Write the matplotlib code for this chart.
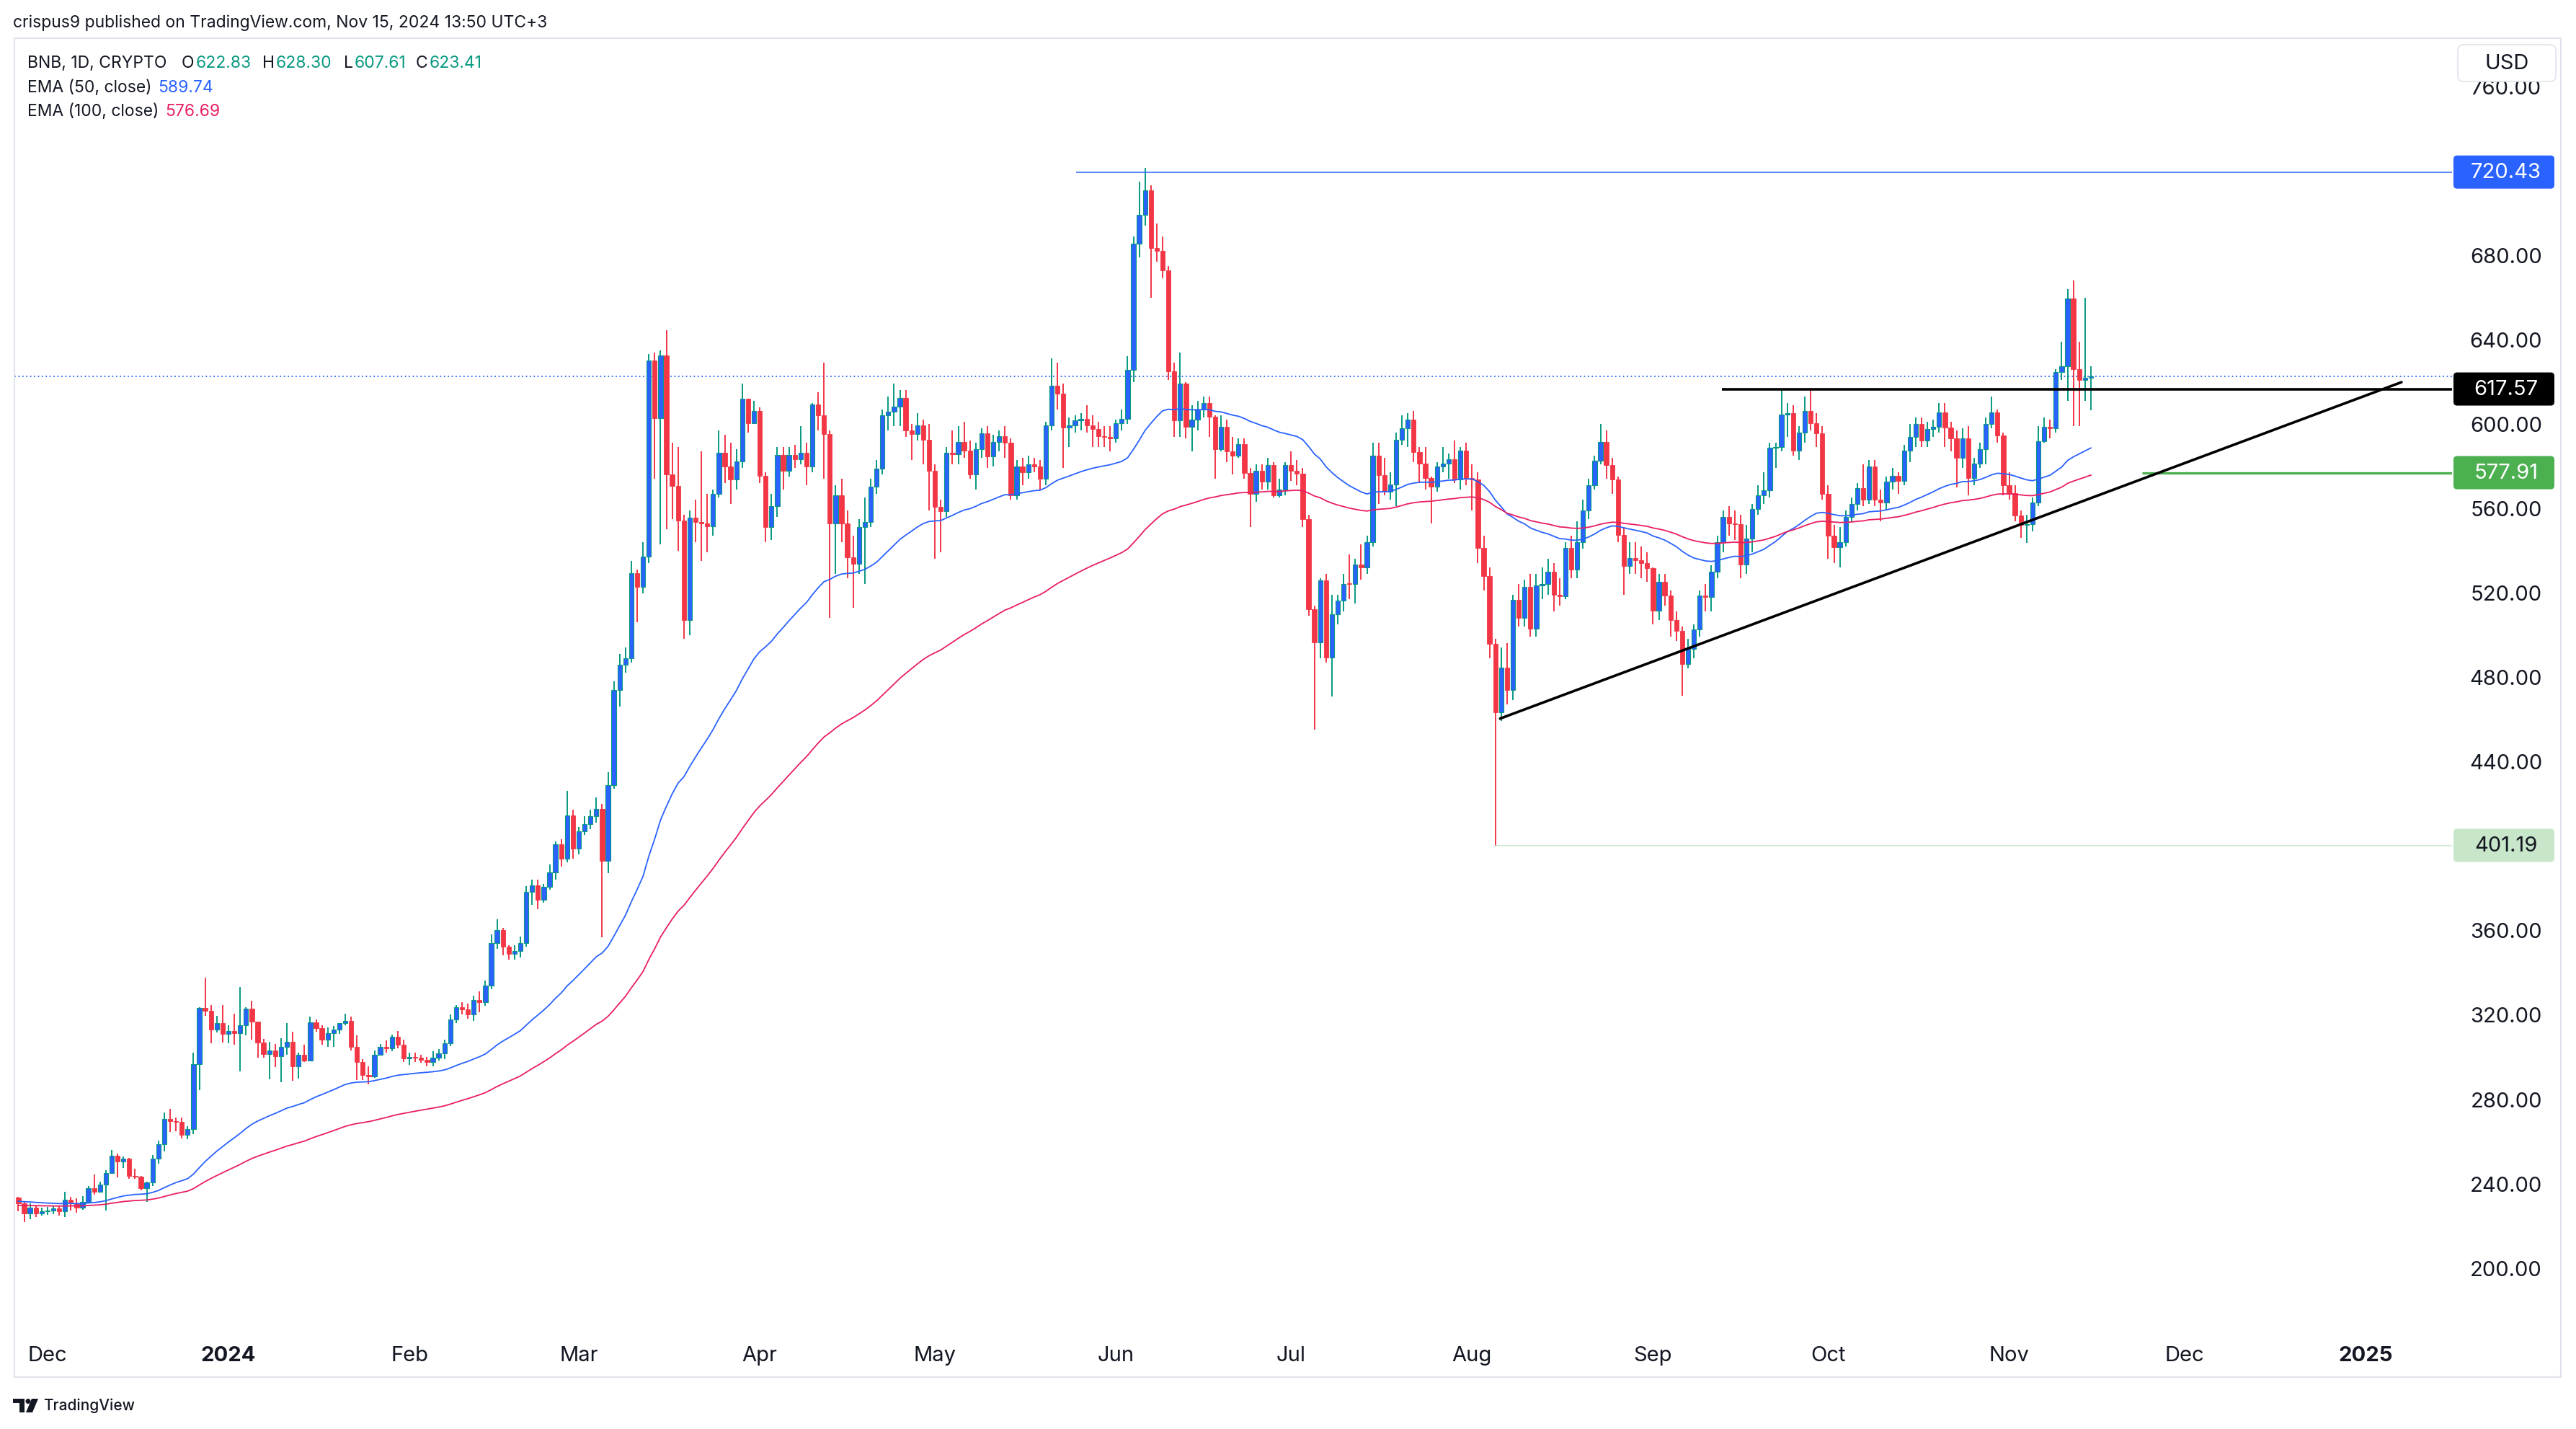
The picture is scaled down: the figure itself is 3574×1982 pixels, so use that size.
import datetime as dt
import matplotlib
matplotlib.use("Agg")
import matplotlib.pyplot as plt
from matplotlib.patches import FancyBboxPatch, Rectangle, Polygon, Circle

W, H = 3574, 1982
plt.rcParams['font.family'] = ['Inter', 'DejaVu Sans']

# ---- data (BNB daily) ----
start_day = dt.date(2023, 11, 26)
first_open = 234.1

close_nov23 = [231.3, 226.7, 229.4, 226.7, 227.8]
high_nov23 = [234.5, 232.2, 231.3, 230.5, 229.5]
low_nov23 = [227.6, 222.5, 224.0, 225.0, 225.5]

close_dec = [228.0, 229.0, 227.6, 233.1, 231.3, 229.4, 232.2, 238.5, 236.8, 240.4, 245.9, 253.9, 251.3, 252.7, 244.5, 244.0,
             238.5, 241.4, 252.5, 259.6, 271.5, 270.6, 270.2, 264.1, 266.5, 297.5, 324.0, 322.8, 313.7, 316.8, 311.7]
high_dec = [229.6, 230.0, 230.2, 236.8, 234.5, 234.0, 235.0, 239.6, 245.3, 241.8, 247.3, 256.7, 255.2, 253.6, 253.0, 247.8,
            244.5, 241.8, 254.2, 261.3, 274.4, 276.1, 272.3, 272.3, 267.9, 302.9, 324.5, 338.4, 325.5, 320.5, 325.5]
low_dec = [226.0, 226.5, 225.5, 225.0, 228.0, 227.0, 228.5, 231.5, 235.5, 236.5, 228.0, 245.5, 243.8, 248.2, 243.0, 243.0,
           237.5, 232.0, 239.5, 250.2, 256.0, 265.2, 265.8, 262.1, 261.8, 264.3, 285.2, 320.3, 307.4, 312.6, 307.8]

close_jan = [313.1, 312.0, 315.8, 323.7, 317.7, 307.7, 302.3, 304.1, 301.2, 305.5, 308.2, 296.3, 301.8, 299.2, 317.1, 314.6,
             308.9, 312.2, 314.0, 316.8, 318.1, 305.5, 298.3, 292.4, 291.7, 301.8, 305.5, 304.9, 310.4, 306.8, 300.2]
high_jan = [315.8, 321.3, 333.9, 324.5, 327.4, 317.7, 309.5, 308.0, 306.9, 309.9, 316.8, 312.8, 302.8, 306.5, 320.0, 318.8,
            316.0, 314.8, 315.5, 317.0, 321.3, 319.9, 311.1, 300.0, 296.3, 304.0, 307.0, 308.6, 311.5, 313.2, 309.0]
low_jan = [307.2, 306.8, 294.1, 311.2, 309.2, 300.6, 300.4, 290.3, 296.0, 288.9, 301.8, 289.5, 290.7, 298.5, 299.2, 312.9,
           306.6, 305.5, 305.5, 311.8, 316.0, 304.0, 290.0, 290.0, 287.8, 291.0, 301.8, 303.0, 303.5, 305.0, 298.4]

close_feb = [300.8, 300.5, 299.6, 298.5, 300.6, 302.5, 307.5, 318.8, 324.5, 323.4, 321.1, 328.0, 327.0, 334.8, 354.9,
             361.0, 353.0, 349.6, 351.2, 355.0, 379.2, 382.2, 375.4, 381.5, 388.4, 401.6, 394.7, 415.3, 399.8]
high_feb = [303.0, 303.0, 302.0, 301.0, 303.5, 304.5, 309.0, 321.0, 325.5, 327.0, 326.0, 330.0, 332.0, 337.0, 359.0,
            366.0, 362.0, 354.0, 354.0, 358.0, 382.0, 385.0, 385.0, 383.0, 392.0, 403.0, 404.0, 427.0, 418.0]
low_feb = [297.0, 298.5, 298.0, 296.5, 296.5, 299.0, 300.0, 306.0, 317.0, 321.0, 319.0, 318.0, 322.0, 325.0, 333.0,
           352.0, 349.0, 347.0, 347.0, 348.0, 353.0, 373.0, 371.0, 374.0, 380.0, 385.0, 391.0, 393.0, 395.0]

close_mar = [407.8, 411.2, 415.0, 418.5, 394.0, 429.9, 475.0, 486.9, 489.9, 530.2, 523.6, 538.2, 631.2, 603.8, 633.4, 577.1,
             571.5, 555.3, 508.1, 556.6, 554.4, 553.7, 552.5, 568.0, 587.2, 581.0, 574.6, 583.3, 612.9, 601.5, 607.2]
high_mar = [410, 415, 418, 424, 421, 436, 479, 492, 495, 536, 532, 545, 634, 635, 636, 645.5,
            592, 590, 558, 560, 565, 588, 568, 570, 598, 596, 592, 589, 620, 613, 612]
low_mar = [397, 406, 409, 412, 357.6, 388, 428, 467, 483, 488, 507, 520.6, 535, 575, 544, 551,
           556, 541, 499, 501, 545, 536, 540, 548, 566, 573, 563, 570, 580, 597, 601]

close_apr = [576.5, 552.1, 562.1, 586.3, 578.7, 586.3, 584.4, 587.2, 581.0, 610.2, 605.0, 596.3, 553.7, 567.3, 553.7,
             537.7, 534.7, 552.1, 554.4, 571.4, 579.9, 605.0, 606.8, 609.1, 613.4, 598.1, 596.3, 600.4, 593.6, 578.7]
high_apr = [609, 578, 568, 590, 590, 590, 591, 600, 592, 611, 616, 630, 598, 572, 575,
            560, 548, 556, 566, 575, 584, 608, 614, 620, 617, 617, 601, 606, 603, 601]
low_apr = [573, 545, 546, 557, 570, 576, 580, 582, 572, 578, 598, 575, 509, 530, 545,
           528, 514, 530, 525, 552, 568, 577, 598, 600, 600, 595, 584, 593, 582, 560]

close_may = [561.6, 559.8, 587.4, 586.7, 592.4, 588.5, 577.1, 588.9, 596.5, 585.6, 592.4, 595.1, 592.0, 567.3, 581.0, 578.0,
             582.0, 581.0, 574.9, 600.4, 619.1, 615.2, 599.3, 600.4, 602.7, 603.5, 600.3, 598.5, 595.3, 594.7, 594.0]
high_may = [582, 565, 590, 598, 600, 602, 593, 592, 599, 600, 596, 598, 600, 594, 584, 585,
            586, 585, 584, 602, 632, 630, 620, 604, 605, 606, 610, 605, 602, 600, 600]
low_may = [537, 540, 557, 582, 582, 585, 575, 570, 585, 580, 581, 588, 585, 565, 565, 572,
           575, 578, 570, 572, 598, 608, 580, 590, 597, 598, 597, 590, 590, 590, 588]

close_jun = [601.4, 603.4, 626.7, 686.6, 700.0, 711.8, 684.3, 683.0, 673.7, 625.9, 602.6, 620.0, 599.7, 603.0, 608.0,
             611.0, 604.5, 589.0, 599.7, 588.0, 586.0, 591.4, 577.8, 567.9, 578.7, 573.7, 581.6, 567.0, 570.0, 581.6]
high_jun = [603, 608, 633, 690, 716, 722.3, 714, 696, 690, 676, 630, 635, 621, 610, 612,
            614, 614, 605, 605, 603, 595, 594, 594, 580, 582, 582, 585, 583, 575, 583]
low_jun = [592, 598, 601, 621, 680, 695, 661, 678, 670, 622, 595, 595, 594, 588, 598,
           604, 595, 575, 588, 583, 577, 585, 575, 552, 564, 570, 570, 566, 566, 567]

close_jul = [578.8, 577.5, 556.0, 513.0, 497.3, 526.8, 490.4, 510.9, 517.2, 525.2, 525.0, 534.3, 533.0, 545.0, 586.0, 576.9,
             569.0, 572.3, 593.5, 598.8, 603.1, 587.8, 582.1, 575.3, 571.4, 581.0, 582.1, 584.4, 574.6, 588.5, 575.3]
high_jul = [588, 584, 580, 558, 515, 528, 530, 520, 520, 530, 539, 537, 544, 548, 592, 592,
            585, 578, 597, 605, 606, 607, 590, 590, 576, 583, 590, 587, 593, 590, 592]
low_jul = [574, 572, 552, 510, 456, 490, 488, 471.8, 506, 512, 518, 516, 527, 530, 543, 563,
           567, 565, 562, 591, 590, 583, 573, 570, 554, 569, 578, 575, 573, 570, 572]

close_aug = [574.6, 542.2, 529.0, 496.7, 464.3, 485.3, 475.0, 517.6, 509.2, 523.6, 503.9, 524.5, 525.0, 530.9, 519.9, 519.4,
             542.2, 532.0, 545.0, 560.0, 572.0, 583.5, 592.4, 581.5, 574.7, 548.3, 533.5, 537.4, 536.5, 535.0, 532.6]
high_aug = [582, 578, 548, 533, 499, 495, 497, 520, 525, 527, 530, 530, 533, 537, 535, 528,
            545, 548, 555, 565, 575, 586, 601, 598, 585, 576, 552, 545, 545, 543, 540]
low_aug = [560, 535, 522, 490, 401.19, 460, 468, 470, 505, 505, 500, 500, 518, 520, 512, 515,
           518, 528, 528, 542, 556, 570, 582, 575, 568, 545, 520, 530, 530, 528, 526]

close_sep = [512.6, 526.0, 519.5, 508.0, 503.0, 487.1, 494.4, 503.5, 519.5, 519.0, 530.8, 545.0, 557.0, 554.0, 553.5,
             534.3, 546.8, 560.5, 567.3, 569.6, 589.6, 590.0, 605.4, 606.0, 588.3, 596.9, 607.2, 601.5, 596.5, 568.0]
high_sep = [533, 530, 530, 522, 512, 505, 499, 506, 522, 525, 534, 548, 560, 562, 560,
            558, 553, 563, 572, 578, 592, 592, 617.5, 611, 610, 600, 614, 618, 606, 600]
low_sep = [506, 508, 515, 500, 498, 472, 485, 490, 500, 512, 512, 528, 540, 548, 546,
           528, 530, 540, 558, 563, 566, 580, 588, 595, 586, 584, 592, 598, 590, 565]

close_oct = [547.9, 542.7, 545.0, 557.0, 563.2, 570.7, 565.0, 581.0, 565.0, 563.9, 573.7, 576.4, 574.0, 588.5, 594.7, 601.0,
             593.0, 598.7, 599.5, 606.5, 599.2, 594.2, 585.1, 594.2, 575.3, 582.1, 588.9, 601.0, 606.4, 595.7, 572.1]
high_oct = [572, 553, 552, 560, 566, 573, 582, 584, 584, 570, 576, 580, 578, 591, 601, 604,
            604, 602, 603, 611, 611, 602, 598, 599, 600, 585, 592, 604, 614, 608, 597]
low_oct = [537, 535, 533, 543, 555, 560, 562, 563, 562, 555, 560, 570, 568, 572, 583, 590,
           590, 590, 595, 597, 590, 588, 571, 580, 567, 572, 580, 582, 599, 592, 567]

close_nov = [568.3, 557.6, 553.0, 553.5, 563.7, 592.7, 599.5, 598.8, 625.5, 628.5, 660.6, 627.0, 621.7, 622.83, 623.41]
high_nov = [578, 572, 560, 558, 566, 600, 604, 603, 627, 640, 665, 669, 640, 661, 628.30]
low_nov = [565, 555, 547, 544.6, 550, 562, 592, 594, 597, 622, 612, 600, 600, 612, 607.61]

closes = (close_nov23 + close_dec + close_jan + close_feb + close_mar + close_apr + close_may + close_jun
          + close_jul + close_aug + close_sep + close_oct + close_nov)
highs = (high_nov23 + high_dec + high_jan + high_feb + high_mar + high_apr + high_may + high_jun
         + high_jul + high_aug + high_sep + high_oct + high_nov)
lows = (low_nov23 + low_dec + low_jan + low_feb + low_mar + low_apr + low_may + low_jun
        + low_jul + low_aug + low_sep + low_oct + low_nov)
opens = [first_open] + closes[:-1]

# EMA starting values read at the left edge of the chart
ema50_seed = 232.5
ema100_seed = 230.5

# axis ticks (days counted from 2024-01-01)
month_days = [-31, 0, 31, 60, 91, 121, 152, 182, 213, 244, 274, 305, 335, 366]
month_labels = ['Dec', '2024', 'Feb', 'Mar', 'Apr', 'May', 'Jun', 'Jul', 'Aug', 'Sep', 'Oct', 'Nov', 'Dec', '2025']
price_ticks = [200, 240, 280, 320, 360, 440, 480, 520, 560, 600, 640, 680, 760]

# drawn levels: price, first day, colour, width(pt), label text colour
levels = [(720.43, 145.2, '#2962FF', 1.1, 'white'),
          (617.57, 255.8, '#000000', 2.6, 'white'),
          (577.91, 327.8, '#4CAF50', 2.4, 'white'),
          (401.19, 216.7, '#C8E6C9', 1.1, '#131722')]
trend_days = [217.8, 372.2]
trend_prices = [461.3, 620.8]
last_price = 623.41


def ema(values, n, seed):
    a = 2.0 / (n + 1)
    out, prev = [], seed
    for v in values:
        prev = a * v + (1 - a) * prev
        out.append(prev)
    return out


day0 = (start_day - dt.date(2024, 1, 1)).days
days = [day0 + i for i in range(len(closes))]
ema50 = ema(closes, 50, ema50_seed)
ema100 = ema(closes, 100, ema100_seed)

UP_BODY, UP_LINE, DOWN = '#2962FF', '#089981', '#F23645'
TXT = '#131722'

fig = plt.figure(figsize=(W / 100, H / 100), dpi=100)
fig.patch.set_facecolor('white')

PL, PR, PT, PB = 20, 3402, 53, 1840
XMIN, XMAX = -36.67, 380.86
YMIN, YMAX = 173.0, 783.9
ax = fig.add_axes([PL / W, 1 - PB / H, (PR - PL) / W, (PB - PT) / H])
ax.set_xlim(XMIN, XMAX)
ax.set_ylim(YMIN, YMAX)
ax.axis('off')


def py(p):
    return PB - (p - YMIN) / (YMAX - YMIN) * (PB - PT)


def px(d):
    return PL + (d - XMIN) / (XMAX - XMIN) * (PR - PL)


# candles
up = [i for i in range(len(closes)) if closes[i] >= opens[i]]
dn = [i for i in range(len(closes)) if closes[i] < opens[i]]
for idx, col in ((up, UP_LINE), (dn, DOWN)):
    ax.vlines([days[i] for i in idx], [lows[i] for i in idx], [highs[i] for i in idx],
              colors=col, linewidth=1.4, zorder=2)
ax.bar([days[i] for i in up], [max(closes[i] - opens[i], 0.4) for i in up], 0.78,
       bottom=[opens[i] for i in up], color=UP_BODY, edgecolor=UP_LINE, linewidth=0.8, zorder=3)
ax.bar([days[i] for i in dn], [max(opens[i] - closes[i], 0.4) for i in dn], 0.78,
       bottom=[closes[i] for i in dn], color=DOWN, edgecolor=DOWN, linewidth=0.6, zorder=3)

ax.plot(days, ema50, color='#2962FF', lw=1.3, zorder=4)
ax.plot(days, ema100, color='#E91E63', lw=1.3, zorder=4)

ax.axhline(last_price, color='#2962FF', lw=1.3, linestyle=(0, (1, 2)), zorder=1)
for price, d_start, col, lw, _ in levels:
    ax.hlines(price, d_start, XMAX, colors=col, linewidth=lw, zorder=5)
ax.plot(trend_days, trend_prices, color='black', lw=2.6, solid_capstyle='round', zorder=5)

# overlay in pixel coordinates
ov = fig.add_axes([0, 0, 1, 1], zorder=10)
ov.set_xlim(0, W)
ov.set_ylim(H, 0)
ov.axis('off')
ov.patch.set_visible(False)

ov.add_patch(Rectangle((20, 53), 3553 - 20, 1910 - 53, fill=False, ec='#e0e3eb', lw=1.5))

for p in price_ticks:
    ov.text(3477, py(p) + 1, f'{p:.2f}', ha='center', va='center', fontsize=21, color=TXT)

ov.add_patch(FancyBboxPatch((3410, 62), 136, 51, boxstyle='round,pad=0,rounding_size=8',
                            fc='white', ec='#e0e3eb', lw=1.2, zorder=3))
ov.text(3478, 89, 'USD', ha='center', va='center', fontsize=21, color=TXT, zorder=4)

for price, _, col, _, tcol in levels:
    y = py(price)
    ov.add_patch(FancyBboxPatch((3404, y - 23), 140, 46, boxstyle='round,pad=0,rounding_size=5',
                                fc=col, ec='none', zorder=3))
    ov.text(3477, y + 1, f'{price:.2f}', ha='center', va='center', fontsize=21, color=tcol, zorder=4)

for d, lab in zip(month_days, month_labels):
    ov.text(px(d), 1880, lab, ha='center', va='center', fontsize=21, color=TXT,
            fontweight='bold' if lab.isdigit() else 'normal')

ov.text(18, 32, 'crispus9 published on TradingView.com, Nov 15, 2024 13:50 UTC+3',
        ha='left', va='center', fontsize=16.5, color=TXT)

renderer = fig.canvas.get_renderer()


def label_value(x, y, label, value, vcol):
    t = ov.text(x, y, label, ha='left', va='center', fontsize=16.5, color=TXT)
    x1 = t.get_window_extent(renderer).x1
    ov.text(x1 + 2, y, value, ha='left', va='center', fontsize=16.5, color=vcol)


ov.text(38, 88, 'BNB, 1D, CRYPTO', ha='left', va='center', fontsize=16.5, color=TXT)
for x, lab, val in ((252, 'O', opens[-1]), (364, 'H', highs[-1]), (477, 'L', lows[-1]), (577, 'C', closes[-1])):
    label_value(x, 88, lab, f'{val:.2f}', UP_LINE)
label_value(38, 122, 'EMA (50, close) ', '589.74', '#2962FF')
label_value(38, 155, 'EMA (100, close) ', '576.69', '#E91E63')

# TradingView mark
ov.add_patch(Polygon([(18, 1940), (34, 1940), (34, 1959), (27, 1959), (27, 1946), (18, 1946)], closed=True,
                     fc='#131722', ec='none'))
ov.add_patch(Circle((39, 1943.5), 3.5, fc='#131722', ec='none'))
ov.add_patch(Polygon([(44, 1940), (53, 1940), (45, 1959), (36, 1959)], closed=True, fc='#131722', ec='none'))
ov.text(60, 1950, 'TradingView', ha='left', va='center', fontsize=15, color=TXT, fontweight='medium')

fig.savefig('out.png', dpi=100, facecolor='white')
